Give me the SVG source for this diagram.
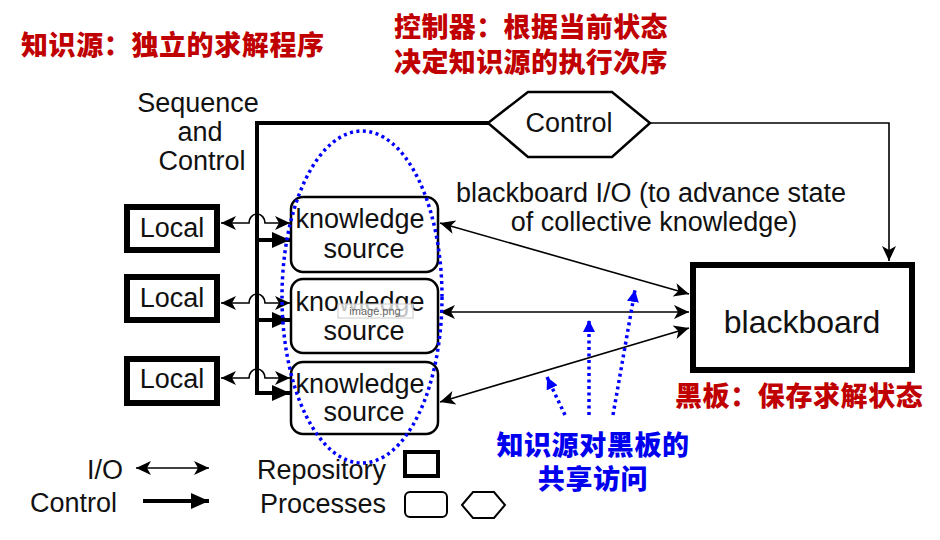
<svg xmlns="http://www.w3.org/2000/svg" width="940" height="540" viewBox="0 0 940 540">
<style>
  .t { font-family: "Liberation Sans", Arial, sans-serif; font-size: 27px; fill: #111; }
  .cn { font-family: "Noto Sans CJK SC", sans-serif; font-weight: 900; font-size: 27px; }
  .red { fill: #c00000; }
  .blue { fill: #0000ee; }
  .ks { fill: #fff; stroke: #000; stroke-width: 2.5; }
  .repo { fill: #fff; stroke: #000; stroke-width: 6; }
  .io { fill: none; stroke: #000; stroke-width: 1.6; }
  .ctl { fill: none; stroke: #000; stroke-width: 4; }
  .dot { fill: none; stroke: #0000ff; stroke-width: 3.5; stroke-dasharray: 3 3.5; }
</style>
<defs>
  <marker id="ioh" markerUnits="userSpaceOnUse" markerWidth="18" markerHeight="16" refX="16" refY="8" orient="auto-start-reverse">
    <path d="M1,1 L16,8 L1,15 L5,8 z" fill="#000"/>
  </marker>
  <marker id="ctlh" markerUnits="userSpaceOnUse" markerWidth="20" markerHeight="20" refX="18" refY="10" orient="auto">
    <path d="M0,2 L18,10 L0,18 z" fill="#000"/>
  </marker>
  <marker id="bh" markerUnits="userSpaceOnUse" markerWidth="14" markerHeight="14" refX="12" refY="6" orient="auto">
    <path d="M0,0 L12,6 L0,12 z" fill="#0000ff"/>
  </marker>
</defs>

<!-- annotation texts -->
<text class="cn red" x="21" y="55" letter-spacing="0.6">知识源：独立的求解程序</text>
<text class="cn red" x="394" y="37" letter-spacing="0.4">控制器：根据当前状态</text>
<text class="cn red" x="394" y="72" letter-spacing="0.4">决定知识源的执行次序</text>
<text class="cn red" x="675" y="406" letter-spacing="0.6">黑板：保存求解状态</text>
<text class="cn blue" x="593" y="455" text-anchor="middle" letter-spacing="0.6">知识源对黑板的</text>
<text class="cn blue" x="593" y="489" text-anchor="middle" letter-spacing="0.6">共享访问</text>

<text class="t" x="198" y="112" text-anchor="middle">Sequence</text>
<text class="t" x="200" y="141" text-anchor="middle">and</text>
<text class="t" x="202" y="170" text-anchor="middle">Control</text>
<text class="t" x="651" y="202" text-anchor="middle">blackboard I/O (to advance state</text>
<text class="t" x="654" y="231" text-anchor="middle">of collective knowledge)</text>

<!-- connectors -->
<g id="connectors">
  <!-- control bus -->
  <path class="ctl" d="M257,123 H490"/>
  <path class="ctl" d="M257,121 V393 H290" marker-end="url(#ctlh)"/>
  <path class="ctl" d="M257,240 H290" marker-end="url(#ctlh)"/>
  <path class="ctl" d="M257,320 H290" marker-end="url(#ctlh)"/>
  <!-- control to blackboard -->
  <path class="io" d="M650,123 H889 V261" marker-end="url(#ioh)"/>
  <!-- local <-> knowledge source with hop -->
  <path class="io" d="M221,223 H249 A8,9 0 0 1 265,223 H290" marker-start="url(#ioh)" marker-end="url(#ioh)"/>
  <path class="io" d="M221,303 H249 A8,9 0 0 1 265,303 H290" marker-start="url(#ioh)" marker-end="url(#ioh)"/>
  <path class="io" d="M221,378 H249 A8,9 0 0 1 265,378 H290" marker-start="url(#ioh)" marker-end="url(#ioh)"/>
  <!-- blackboard I/O -->
  <path class="io" d="M440,223 L689,294" marker-start="url(#ioh)" marker-end="url(#ioh)"/>
  <path class="io" d="M440,312 L689,312" marker-start="url(#ioh)" marker-end="url(#ioh)"/>
  <path class="io" d="M440,402 L689,328" marker-start="url(#ioh)" marker-end="url(#ioh)"/>
  <!-- blue dotted access arrows -->
  <path class="dot" d="M565,415 L547,377" marker-end="url(#bh)"/>
  <path class="dot" d="M589,415 L589,320" marker-end="url(#bh)"/>
  <path class="dot" d="M613,415 L635,290" marker-end="url(#bh)"/>
</g>

<!-- nodes -->
<g id="control">
  <polygon points="488,123 528,92 612,92 650,123 612,157 528,157" fill="#fff" stroke="#000" stroke-width="2.5"/>
  <text class="t" x="569" y="132" text-anchor="middle">Control</text>
</g>
<g id="blackboard">
  <rect class="repo" x="693" y="265" width="219" height="105"/>
  <text class="t" x="802" y="333" text-anchor="middle" style="font-size:32px">blackboard</text>
</g>
<g id="local1">
  <rect class="repo" x="127" y="207" width="90" height="43"/>
  <text class="t" x="172" y="237" text-anchor="middle">Local</text>
</g>
<g id="local2">
  <rect class="repo" x="127" y="277" width="90" height="43"/>
  <text class="t" x="172" y="307" text-anchor="middle">Local</text>
</g>
<g id="local3">
  <rect class="repo" x="127" y="359" width="90" height="44"/>
  <text class="t" x="172" y="388" text-anchor="middle">Local</text>
</g>
<g id="ks1">
  <rect class="ks" x="291" y="197" width="147" height="75" rx="12"/>
  <text class="t" x="360" y="228" text-anchor="middle">knowledge</text>
  <text class="t" x="364" y="258" text-anchor="middle">source</text>
</g>
<g id="ks2">
  <rect class="ks" x="291" y="279" width="147" height="74" rx="12"/>
  <text class="t" x="360" y="311" text-anchor="middle">knowledge</text>
  <text class="t" x="364" y="340" text-anchor="middle">source</text>
  <rect x="338" y="304" width="75" height="14" fill="#fff" fill-opacity="0.75" stroke="#ccc" stroke-width="1"/>
  <text x="375" y="315" text-anchor="middle" font-family="Liberation Sans, sans-serif" font-size="11" fill="#666">image.png</text>
</g>
<g id="ks3">
  <rect class="ks" x="291" y="362" width="147" height="72" rx="12"/>
  <text class="t" x="360" y="393" text-anchor="middle">knowledge</text>
  <text class="t" x="364" y="421" text-anchor="middle">source</text>
</g>
<g id="ks-group">
  <ellipse class="dot" cx="362" cy="297" rx="80" ry="166"/>
</g>

<!-- legend -->
<g id="legend">
  <text class="t" x="123" y="479" text-anchor="end">I/O</text>
  <text class="t" x="117" y="512" text-anchor="end">Control</text>
  <path class="io" d="M136,468 H209" marker-start="url(#ioh)" marker-end="url(#ioh)"/>
  <path class="ctl" d="M143,501 H209" marker-end="url(#ctlh)"/>
  <text class="t" x="386" y="479" text-anchor="end">Repository</text>
  <text class="t" x="386" y="513" text-anchor="end">Processes</text>
  <rect x="405" y="452" width="33" height="24" fill="#fff" stroke="#000" stroke-width="4"/>
  <rect x="405" y="492" width="42" height="25" rx="5" fill="#fff" stroke="#000" stroke-width="2"/>
  <polygon points="462,505 473,492 494,492 505,505 494,518 473,518" fill="#fff" stroke="#000" stroke-width="2"/>
</g>
</svg>
